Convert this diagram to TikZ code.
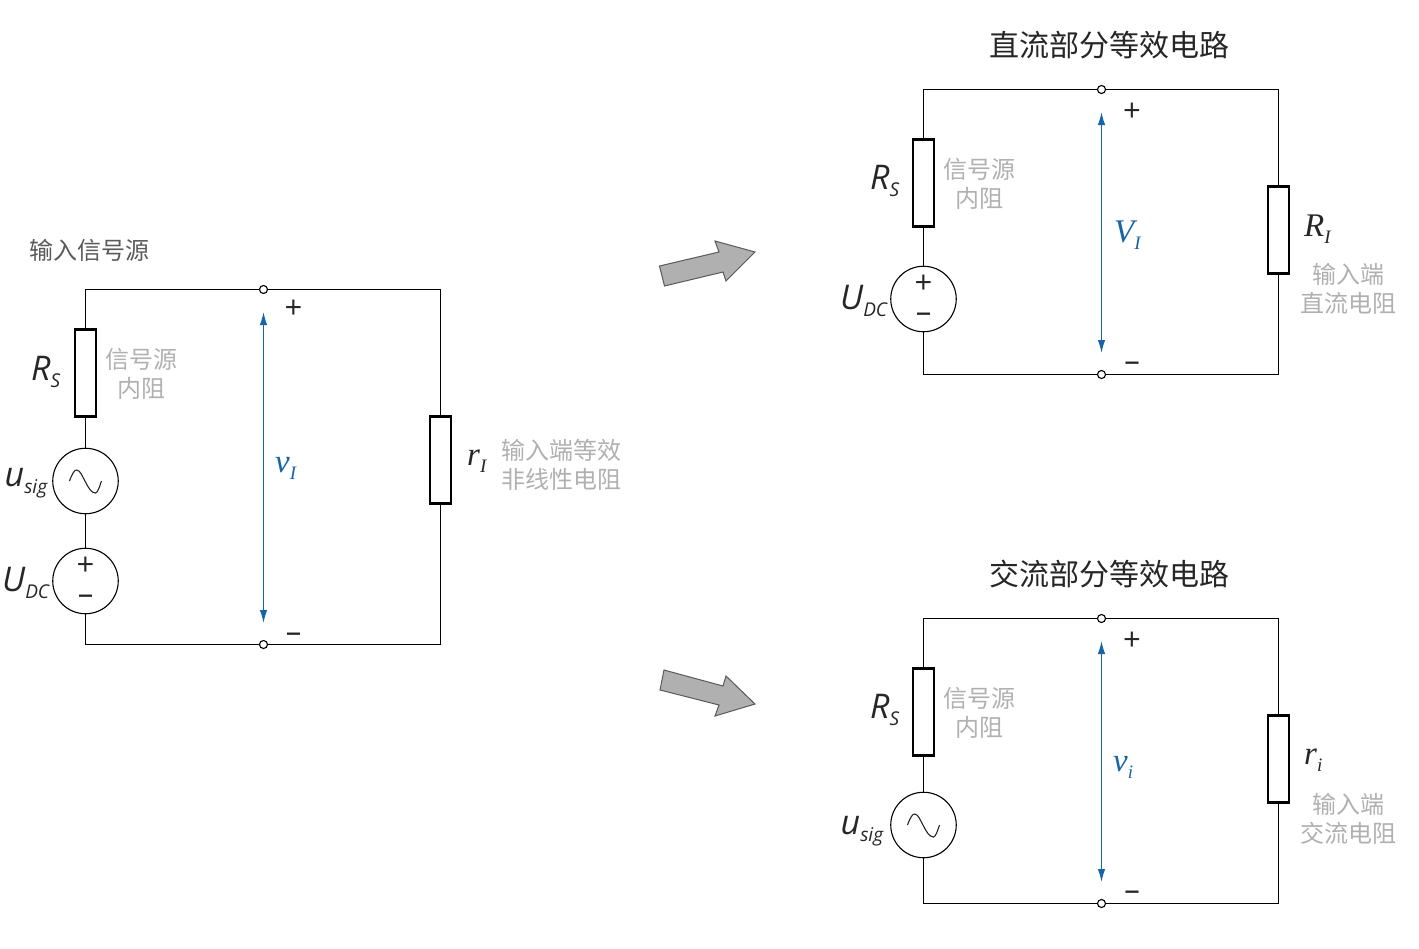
\documentclass[tikz,border=0pt]{standalone}
\usepackage{fontspec}
\setmainfont{Open Sans}
\newfontfamily\cjk{Noto Sans CJK SC}
\newfontfamily\lat{Open Sans}
\newfontfamily\ser{Liberation Serif}
\usetikzlibrary{arrows.meta}
\definecolor{tblue}{RGB}{24,100,168}
\definecolor{tgrey}{RGB}{176,176,176}
\definecolor{hgrey}{RGB}{90,90,90}
\definecolor{agrey}{RGB}{176,176,176}
\tikzset{
 x=1pt,y=-1pt,
 wire/.style={line width=1.1pt,black},
 resbox/.style={draw=black,line width=2.2pt,fill=white,minimum width=21pt,minimum height=87pt,inner sep=0pt,outer sep=0pt},
 src/.style={draw=black,line width=1.1pt,fill=white,circle,minimum size=65.5pt,inner sep=0pt,outer sep=0pt},
 term/.style={draw=black,line width=1.1pt,fill=white,circle,minimum size=8pt,inner sep=0pt,outer sep=0pt},
 volt/.style={line width=1.2pt,tblue,{Latex[length=13pt,width=7.5pt]}-{Latex[length=13pt,width=7.5pt]}},
 note/.style={tgrey,align=center,inner sep=0pt,font=\cjk\fontsize{24}{29}\selectfont},
 head/.style={hgrey,inner sep=0pt,font=\cjk\fontsize{24}{29}\selectfont},
 title/.style={black!85,inner sep=0pt,font=\cjk\fontsize{30}{36}\selectfont},
 sym/.style={black!85,inner sep=0pt,font=\lat\itshape\fontsize{34}{38}\selectfont},
 rsym/.style={black!85,inner sep=0pt,font=\ser\itshape\fontsize{33}{38}\selectfont},
 vsym/.style={tblue,inner sep=0pt,font=\ser\itshape\fontsize{33}{38}\selectfont},
 pm/.style={black!85,inner sep=0pt,font=\lat\fontsize{31}{34}\selectfont},
 pmpair/.style={black!85,align=center,inner sep=0pt,font=\lat\fontsize{31}{29}\selectfont},
 bigarrow/.style={draw=black!65,line width=1pt,fill=agrey},
}
\newcommand{\subs}[1]{\fontsize{19}{24}\selectfont\raisebox{-7pt}{#1}}
\newcommand{\wave}[1]{\draw[line width=1.1pt,black!85,shift={(#1.center)}] (-16,0) .. controls (-13,-8) and (-11,-11) .. (-9,-11) .. controls (-5,-11) and (-3,-4) .. (0,1) .. controls (3,7) and (6,12) .. (10,12) .. controls (12,12) and (14,6) .. (16,0);}
\begin{document}
\begin{tikzpicture}
\useasboundingbox (0,0) rectangle (1419,948);
% left
\node[term] (lt) at (263.5,289.5) {};
\node[term] (lb) at (263.5,644.5) {};
\node[resbox] (lrs) at (85.5,373) {};
\node[src] (lsig) at (85.5,481) {};
\node[src] (ldc) at (85.5,581) {};
\node[resbox] (lri) at (440.5,460) {};
\draw[wire] (lt.west) -| (lrs.north);
\draw[wire] (lrs.south) -- (lsig.north);
\draw[wire] (lsig.south) -- (ldc.north);
\draw[wire] (ldc.south) |- (lb.west);
\draw[wire] (lt.east) -| (lri.north);
\draw[wire] (lb.east) -| (lri.south);
\wave{lsig}
\coordinate (lva) at (263.5,312);
\coordinate (lvb) at (263.5,623);
\draw[volt] (lva) -- (lvb);
\node[head,anchor=west] (lhead) at (29,250) {输入信号源};
\node[note] (lnote) at (141,373.5) {信号源\\内阻};
\node[note] (lnote2) at (561,464.5) {输入端等效\\非线性电阻};
\node[sym,anchor=west] (lrsl) at (31,372) {R\subs{S}};
\node[sym,anchor=west] (lsigl) at (4.5,483) {u\subs{sig}};
\node[sym,anchor=west] (ldcl) at (2,583) {U\subs{DC}};
\node[rsym,anchor=west] (lril) at (467,461) {r\subs{I}};
\node[vsym,anchor=west] (lvl) at (275,468) {v\subs{I}};
\node[pm] (lp) at (293.5,309) {+};
\node[pm] (lm) at (293.5,638) {–};
\node[pmpair] (ldpm) at (85.5,581) {+\\–};
% arrows
\draw[bigarrow] (659.5,266) -- (664.5,286) -- (723,272) -- (726,281) -- (755,252) -- (715,241) -- (719,252) -- cycle;
\draw[bigarrow] (664,670) -- (660,690) -- (719,705) -- (715,716) -- (755,704) -- (726,676) -- (723,686) -- cycle;
% top right
\node[title] (ttitle) at (1109,45) {直流部分等效电路};
\node[term] (tt) at (1101.5,89.5) {};
\node[term] (tb) at (1101.5,374.5) {};
\node[resbox] (trs) at (923.5,183) {};
\node[src] (tdc) at (923.5,299) {};
\node[resbox] (tri) at (1278.5,230) {};
\draw[wire] (tt.west) -| (trs.north);
\draw[wire] (trs.south) -- (tdc.north);
\draw[wire] (tdc.south) |- (tb.west);
\draw[wire] (tt.east) -| (tri.north);
\draw[wire] (tb.east) -| (tri.south);
\coordinate (tva) at (1101.5,112);
\coordinate (tvb) at (1101.5,353);
\draw[volt] (tva) -- (tvb);
\node[note] (tnote) at (979,183.5) {信号源\\内阻};
\node[note] (tnote2) at (1348,288.5) {输入端\\直流电阻};
\node[sym,anchor=west] (trsl) at (870,181) {R\subs{S}};
\node[sym,anchor=west] (tdcl) at (840,301) {U\subs{DC}};
\node[rsym,anchor=west] (tril) at (1304,229) {R\subs{I}};
\node[vsym,anchor=west] (tvl) at (1114,235) {V\subs{I}};
\node[pm] (tp) at (1132,112) {+};
\node[pm] (tm) at (1132,367) {–};
\node[pmpair] (tdpm) at (923.5,299) {+\\–};
% bottom right
\node[title] (btitle) at (1109,574) {交流部分等效电路};
\node[term] (bt) at (1101.5,618.5) {};
\node[term] (bb) at (1101.5,903.5) {};
\node[resbox] (brs) at (923.5,712) {};
\node[src] (bsig) at (923.5,825) {};
\node[resbox] (bri) at (1278.5,759) {};
\draw[wire] (bt.west) -| (brs.north);
\draw[wire] (brs.south) -- (bsig.north);
\draw[wire] (bsig.south) |- (bb.west);
\draw[wire] (bt.east) -| (bri.north);
\draw[wire] (bb.east) -| (bri.south);
\wave{bsig}
\coordinate (bva) at (1101.5,641);
\coordinate (bvb) at (1101.5,882);
\draw[volt] (bva) -- (bvb);
\node[note] (bnote) at (979,712.5) {信号源\\内阻};
\node[note] (bnote2) at (1348,818.5) {输入端\\交流电阻};
\node[sym,anchor=west] (brsl) at (870,710) {R\subs{S}};
\node[sym,anchor=west] (bsigl) at (840.5,831) {u\subs{sig}};
\node[rsym,anchor=west] (bril) at (1304,760) {r\subs{i}};
\node[vsym,anchor=west] (bvl) at (1113,767) {v\subs{i}};
\node[pm] (bp) at (1132,641) {+};
\node[pm] (bm) at (1132,896) {–};
\end{tikzpicture}
\end{document}
